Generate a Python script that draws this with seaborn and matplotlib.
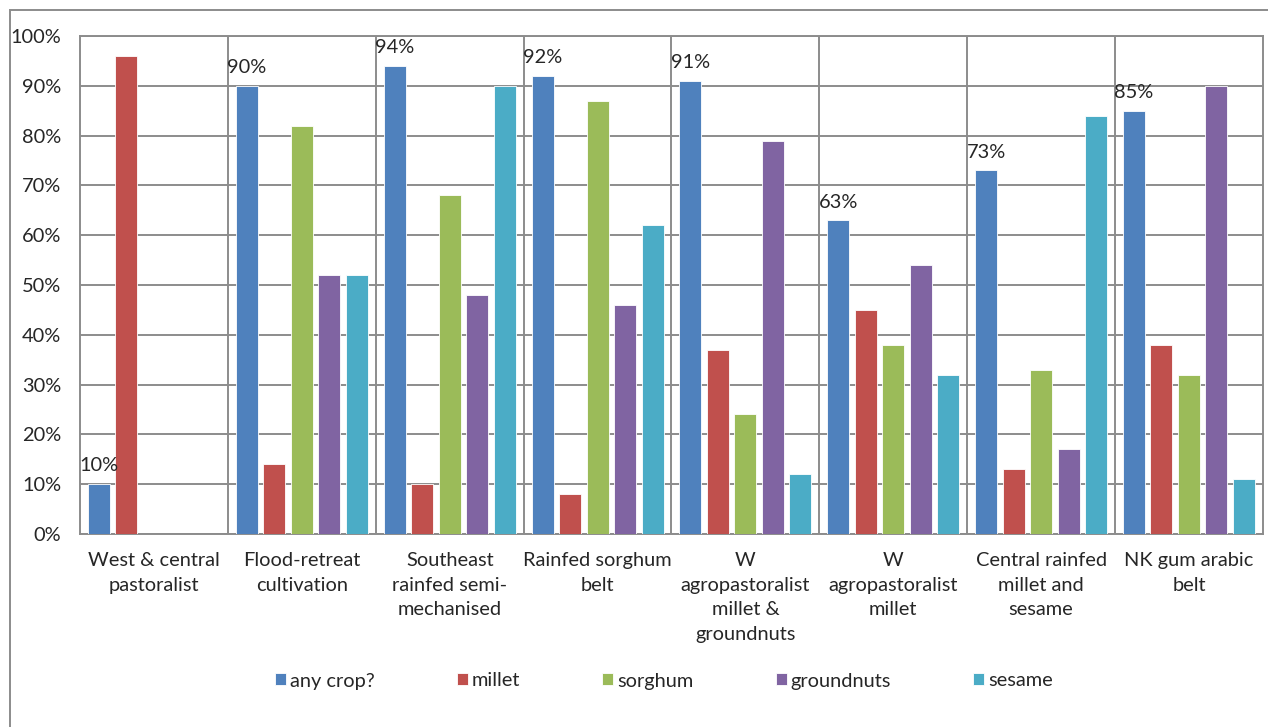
import matplotlib
matplotlib.use("Agg")
import matplotlib.pyplot as plt
import matplotlib.patches as mpatches
import seaborn as sns
import pandas as pd

# Livelihood zones and share of households growing each crop (%)
zones = [
    "West & central\npastoralist",
    "Flood-retreat\ncultivation",
    "Southeast\nrainfed semi-\nmechanised",
    "Rainfed sorghum\nbelt",
    "W\nagropastoralist\nmillet &\ngroundnuts",
    "W\nagropastoralist\nmillet",
    "Central rainfed\nmillet and\nsesame",
    "NK gum arabic\nbelt",
]
crops = ["any crop?", "millet", "sorghum", "groundnuts", "sesame"]
any_crop = [10, 90, 94, 92, 91, 63, 73, 85]
millet = [96, 14, 10, 8, 37, 45, 13, 38]
sorghum = [0, 82, 68, 87, 24, 38, 33, 32]
groundnuts = [0, 52, 48, 46, 79, 54, 17, 90]
sesame = [0, 52, 90, 62, 12, 32, 84, 11]
y_ticks = [0, 10, 20, 30, 40, 50, 60, 70, 80, 90, 100]

colors = ["#4F81BD", "#C0504D", "#9BBB59", "#8064A2", "#4BACC6"]

series = [any_crop, millet, sorghum, groundnuts, sesame]
df = pd.DataFrame(
    [(z, c, v) for c, vals in zip(crops, series) for z, v in zip(zones, vals)],
    columns=["zone", "crop", "value"],
)

sns.set_theme(style="white")
plt.rcParams["font.family"] = ["Lato", "DejaVu Sans"]
fs = 14.4

fig = plt.figure(figsize=(12.68, 7.27), dpi=100)
ax = fig.add_axes([0.0631, 0.2655, 0.9329, 0.685])

sns.barplot(
    data=df, x="zone", y="value", hue="crop", order=zones, hue_order=crops,
    palette=colors, width=0.93, gap=0.2, saturation=1, ax=ax,
    edgecolor="white", linewidth=0.6, legend=True, zorder=3,
)

grid_c = "#8c8c8c"
ax.set_ylim(0, 100)
ax.set_xlim(-0.5, len(zones) - 0.5)
ax.set_yticks(y_ticks)
ax.set_yticklabels([f"{t}%" for t in y_ticks], fontsize=fs)
ax.tick_params(axis="y", length=0, pad=13.5)
ax.tick_params(axis="x", length=0, pad=13, labelsize=fs)
for lab in ax.get_xticklabels():
    lab.set_linespacing(1.55)
ax.set_xlabel("")
ax.set_ylabel("")
for t in y_ticks:
    ax.axhline(t, color=grid_c, lw=1.4, zorder=1)
for i in range(1, len(zones)):
    ax.axvline(i - 0.5, color=grid_c, lw=1.4, zorder=1)
for s in ax.spines.values():
    s.set_color(grid_c)
    s.set_linewidth(1.4)

# value labels above the "any crop?" bars
ax.bar_label(ax.containers[0], labels=[f"{v}%" for v in any_crop],
             padding=7, fontsize=fs)

ax.legend(
    loc="center", ncol=5, frameon=False, fontsize=fs,
    handlelength=0.55, handleheight=0.55, handletextpad=0.2,
    columnspacing=4.1, borderpad=0, borderaxespad=0,
)
leg = ax.get_legend()
leg.set_bbox_to_anchor((664 / 1268, 1 - 681 / 727), transform=fig.transFigure)

# outer chart frame
fig.patches.append(mpatches.Rectangle(
    (10 / 1268, -0.1), 1.2, 1 - 10 / 727 + 0.1, transform=fig.transFigure,
    fill=False, edgecolor=grid_c, lw=1.4))

fig.savefig("out.png", dpi=100)
